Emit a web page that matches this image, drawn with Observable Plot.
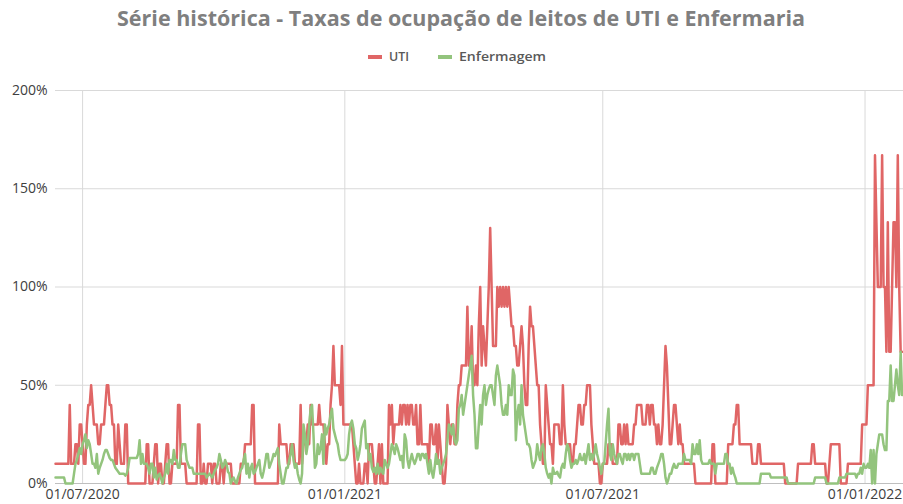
<!DOCTYPE html>
<html><head><meta charset="utf-8">
<script src="https://cdn.jsdelivr.net/npm/d3@7"></script>
<script src="https://cdn.jsdelivr.net/npm/@observablehq/plot@0.6"></script>
<style>
body{margin:0;background:#fff;}
#wrap{width:903px;height:504px;position:relative;overflow:hidden;background:#fff}
#head{display:block}
#chart svg{display:block}
</style></head>
<body><div id="wrap"><svg id="head" width="903" height="70"></svg><div id="chart"></div></div>
<script>
// ---- data (daily values, first day 2020-06-12) ----
const startDate = "2020-06-12";
const seriesNames = ["UTI", "Enfermagem"];
const seriesColors = ["#e06666", "#93c47d"];
const tickDates = ["2020-07-01", "2021-01-01", "2021-07-01", "2022-01-01"];
const yTicks = [0, 50, 100, 150, 200];

const uti2020 = [
10,10,10,10,10,10,10,10,10,10,
40,10,10,10,20,20,10,30,30,20,
10,10,30,40,40,50,40,30,30,30,
20,20,30,30,30,40,50,50,40,40,
30,30,10,10,30,20,10,10,10,30,
30,0,0,0,0,0,0,0,0,0,
0,0,0,0,20,20,0,0,0,10,
20,20,0,10,10,0,0,10,20,20,
0,0,10,10,10,10,40,40,10,10,
10,10,0,0,0,0,0,0,0,0,
30,30,0,0,10,0,0,10,10,10,
0,10,10,0,0,0,10,10,0,10,
10,10,10,10,0,0,0,0,0,0,
10,10,10,20,20,20,20,20,40,40,
0,0,0,0,0,0,0,0,0,0,
0,0,0,0,0,0,0,30,20,20,
20,20,20,10,10,20,20,20,10,10,
10,10,40,10,20,20,20,30,20,40,
30,30,30,30,30,40,30,30,30,20,
10,20,20,40,50,70,50,50,50,50,
40,70,30];
const uti2021 = [
30,30,30,30,30,30,20,
10,0,0,10,0,0,0,10,10,0,
20,20,20,10,0,0,10,20,0,20,
0,0,0,0,40,30,40,20,30,30,
30,30,40,30,40,40,30,40,30,40,
40,30,30,40,20,20,40,20,20,20,
20,20,10,30,30,20,20,30,10,30,
20,10,0,0,10,40,30,20,30,30,
20,20,40,50,50,60,60,60,60,90,
60,60,80,50,50,60,50,80,100,60,
80,70,60,80,100,130,100,70,70,70,
100,90,100,90,100,90,100,90,100,90,
80,80,70,70,60,60,70,80,70,50,
40,40,70,90,80,80,70,60,50,50,
30,20,10,10,50,40,30,20,20,10,
30,30,30,30,20,20,50,30,20,20,
20,20,10,10,20,20,30,40,40,30,
30,40,40,50,50,50,30,20,10,10,
10,10,0,0,10,10,10,10,20,20,
20,10,10,10,10,30,30,20,20,30,
20,30,20,20,20,20,30,30,40,40,
40,40,30,30,30,40,40,30,40,40,
30,30,20,30,20,20,30,50,70,60,
40,20,20,30,40,40,30,20,30,20,
20,10,10,10,10,10,10,10,10,0,
0,0,0,0,0,0,0,0,0,0,
0,20,20,0,0,0,0,0,0,0,
0,0,20,20,20,20,30,30,40,40,
20,20,20,20,20,20,20,20,20,10,
10,10,10,20,20,10,10,10,10,10,
10,10,10,10,10,10,10,10,10,10,
10,10,0,0,0,0,0,0,0,0,
0,10,10,10,10,10,10,10,10,10,
10,20,20,10,10,10,10,10,10,10,
10,0,0,10,20,20,20,20,20,20,
20,0,0,0,0,0,10,10,10,10,
10,10,10,10,10,10,30,30];
const uti2022 = [
30,30,50,50,50,50,50,167,133,100,
100,100,167,100,100,67,133,67,67,100,
133,133,100,167,100,67,67];

const enf2020 = [
3,3,3,3,3,3,3,0,0,0,
0,0,0,5,10,12,15,18,15,20,
22,25,18,22,20,15,10,10,8,15,
5,8,10,12,15,17,17,15,13,12,
12,10,8,7,6,5,5,5,5,4,
5,8,13,13,13,13,13,13,15,22,
10,15,10,10,10,8,5,10,10,3,
8,2,4,5,3,0,3,5,10,5,
12,12,10,17,12,12,8,8,15,20,
20,20,12,10,8,8,8,5,5,5,
5,5,5,5,5,5,3,4,5,4,
3,5,7,8,10,15,12,8,9,12,
10,6,5,0,2,3,1,0,3,5,
7,8,12,15,5,10,3,8,10,5,
6,8,10,12,5,3,6,10,15,15,
8,10,12,15,14,16,18,10,5,0,
0,4,8,8,12,15,20,12,8,10,
5,2,0,5,30,25,15,20,30,38,
40,25,8,10,20,15,18,25,10,30,
25,28,30,35,38,28,25,22,20,15,
12,12,12];
const enf2021 = [
12,13,15,25,30,32,28,
20,18,12,15,20,28,30,32,18,20,
12,15,8,6,8,5,10,5,8,6,
5,12,10,8,10,15,20,18,15,20,
18,15,12,14,8,25,22,12,8,12,
15,12,10,12,15,15,12,15,15,13,
15,10,5,12,6,3,8,15,10,12,
5,8,10,12,15,22,30,28,25,30,
22,20,22,38,40,45,35,40,45,50,
55,60,65,45,35,18,18,30,40,30,
45,50,40,45,48,50,50,45,40,55,
60,55,50,40,35,35,40,35,50,45,
45,58,55,22,35,40,30,50,35,30,
25,20,20,18,12,8,10,12,20,15,
12,18,20,15,8,5,3,5,0,8,
5,5,6,4,3,8,10,8,15,20,
18,12,8,10,10,12,10,12,15,12,
12,15,10,15,20,12,15,12,15,20,
15,12,8,5,10,10,20,30,38,15,
12,20,15,12,10,15,15,12,10,15,
15,12,15,12,15,15,12,15,15,15,
10,5,5,5,5,5,5,5,8,8,
5,5,8,10,12,15,15,10,3,0,
2,5,5,8,10,8,8,10,10,10,
10,15,12,12,12,12,10,20,15,15,
20,15,22,12,10,10,10,10,10,12,
10,10,10,5,10,10,10,10,10,10,
15,15,10,10,5,8,5,3,0,0,
0,0,0,0,0,0,0,0,0,0,
0,0,0,0,0,5,5,5,5,5,
5,5,3,3,3,3,3,3,3,3,
3,3,3,3,0,0,0,0,0,0,
0,0,0,0,0,0,0,0,0,0,
0,0,0,3,3,3,3,3,3,3,
3,0,0,0,0,0,0,0,0,0,
3,3,3,3,3,5,5,5,5,5,
5,5,3,5,5,8,5,10];
const enf2022 = [
8,8,10,8,17,0,17,0,15,20,
25,25,25,20,17,17,42,42,60,42,
42,50,58,50,45,67,45];

// ---- build rows ----
const DAY = 864e5;
const t0 = new Date(startDate + "T00:00:00Z").getTime();
function rows(values, name) {
  return values.map((v, i) => ({date: new Date(t0 + i * DAY), value: v, series: name}));
}
const utiRows = rows([...uti2020, ...uti2021, ...uti2022], seriesNames[0]);
const enfRows = rows([...enf2020, ...enf2021, ...enf2022], seriesNames[1]);
const ticks = tickDates.map(d => new Date(d + "T00:00:00Z"));
const xDomain = [new Date(t0), new Date(t0 + 595 * DAY)];

const font = "'Open Sans', 'Liberation Sans', sans-serif";

// ---- header: title + legend ----
const head = d3.select("#head");
head.append("text")
  .attr("x", 461).attr("y", 26)
  .attr("text-anchor", "middle")
  .attr("font-family", font).attr("font-weight", "bold").attr("font-size", 21)
  .attr("fill", "#7f7f7f")
  .attr("textLength", 688).attr("lengthAdjust", "spacingAndGlyphs")
  .text("Série histórica - Taxas de ocupação de leitos de UTI e Enfermaria");
const legendItems = [
  {name: seriesNames[0], color: seriesColors[0], x: 368, tw: 20},
  {name: seriesNames[1], color: seriesColors[1], x: 438, tw: 87}
];
legendItems.forEach(it => {
  head.append("line").attr("x1", it.x).attr("x2", it.x + 14).attr("y1", 57).attr("y2", 57)
    .attr("stroke", it.color).attr("stroke-width", 4);
  head.append("text").attr("x", it.x + 21).attr("y", 61)
    .attr("font-family", font).attr("font-size", 12).attr("font-weight", 600).attr("fill", "#595959")
    .attr("textLength", it.tw).attr("lengthAdjust", "spacingAndGlyphs")
    .text(it.name);
});

// ---- chart ----
const chart = Plot.plot({
  width: 903,
  height: 434,
  marginLeft: 55,
  marginRight: 0,
  marginTop: 20,
  marginBottom: 21,
  style: {fontFamily: font, fontSize: "14px", color: "#404040", background: "#fff", overflow: "visible"},
  x: {type: "utc", domain: xDomain, label: null},
  y: {domain: [0, 200], label: null},
  marks: [
    Plot.gridY(yTicks.slice(1), {stroke: "#d9d9d9", strokeOpacity: 1}),
    Plot.gridX(ticks, {stroke: "#d9d9d9", strokeOpacity: 1}),
    Plot.ruleY([0], {stroke: "#bfbfbf"}),
    Plot.axisY(yTicks, {tickSize: 0, tickPadding: 8, label: null, tickFormat: d => d + "%", fill: "#404040", fontSize: 14}),
    Plot.axisX(ticks, {tickSize: 0, tickPadding: 6, label: null, tickFormat: d3.utcFormat("%d/%m/%Y"), fill: "#404040", fontSize: 14}),
    Plot.line(utiRows, {x: "date", y: "value", stroke: seriesColors[0], strokeWidth: 2.5, strokeLinejoin: "round"}),
    Plot.line(enfRows, {x: "date", y: "value", stroke: seriesColors[1], strokeWidth: 2.5, strokeLinejoin: "round"})
  ]
});
document.getElementById("chart").appendChild(chart);
</script>
</body></html>
